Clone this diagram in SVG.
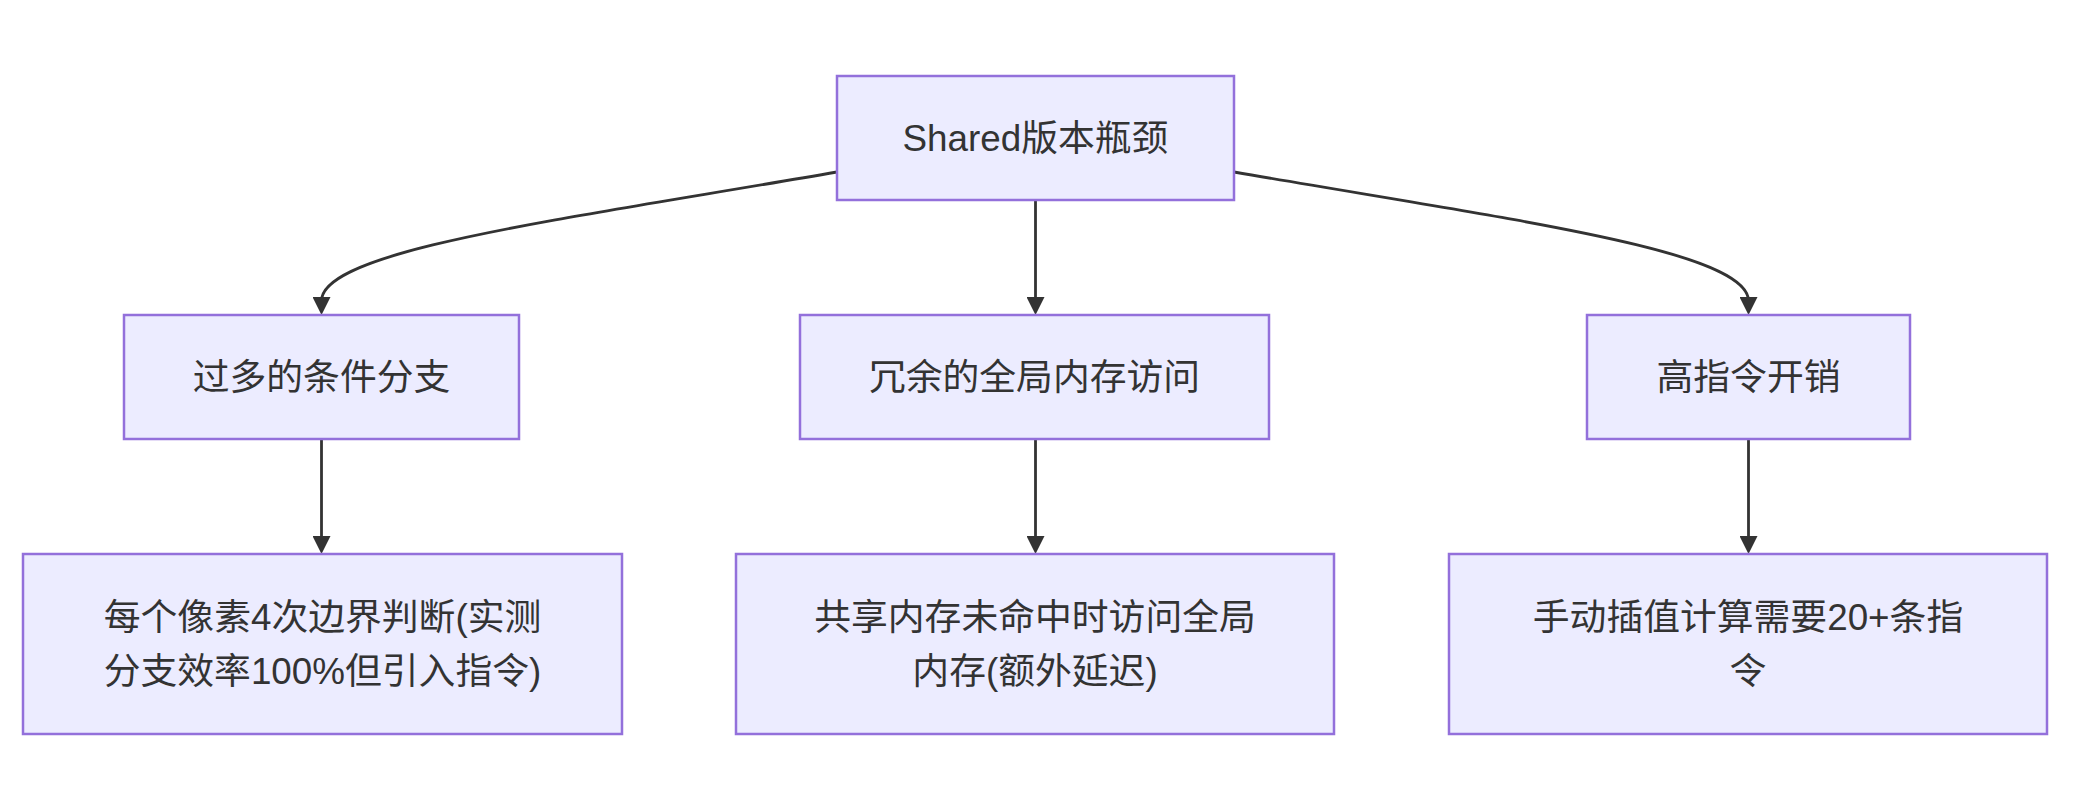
<svg xmlns="http://www.w3.org/2000/svg" width="2094" height="790" viewBox="0 0 2094 790">
<style>
.node rect{fill:#ECECFF;stroke:#9370DB;stroke-width:2.5;}
.node text{font-family:"Liberation Sans","Noto Sans CJK SC",sans-serif;font-size:36.8px;fill:#333333;text-anchor:middle;dominant-baseline:central;}
.edge{fill:none;stroke:#333333;stroke-width:2.8;}
</style>
<defs>
<marker id="arrow" viewBox="0 0 10 10" refX="2.2" refY="5" markerUnits="userSpaceOnUse" markerWidth="18" markerHeight="18" orient="auto">
<path d="M0,0 L10,5 L0,10 z" fill="#333333"/>
</marker>
</defs>
<rect width="2094" height="790" fill="#ffffff"/>
<g id="connectors">
<path class="edge" d="M837,172 C560,220 321.5,250 321.5,301" marker-end="url(#arrow)"/>
<path class="edge" d="M1035.5,200 L1035.5,301" marker-end="url(#arrow)"/>
<path class="edge" d="M1234,172 C1511,220 1748.5,250 1748.5,301" marker-end="url(#arrow)"/>
<path class="edge" d="M321.5,439 L321.5,540" marker-end="url(#arrow)"/>
<path class="edge" d="M1035.5,439 L1035.5,540" marker-end="url(#arrow)"/>
<path class="edge" d="M1748.5,439 L1748.5,540" marker-end="url(#arrow)"/>
</g>
<g id="top" class="node">
<rect x="837" y="76" width="397" height="124"/>
<text x="1035.5" y="138">Shared版本瓶颈</text>
</g>
<g id="branch" class="node">
<rect x="124" y="315" width="395" height="124"/>
<text x="321.5" y="377">过多的条件分支</text>
</g>
<g id="memory" class="node">
<rect x="800" y="315" width="469" height="124"/>
<text x="1034.5" y="377">冗余的全局内存访问</text>
</g>
<g id="instr" class="node">
<rect x="1587" y="315" width="323" height="124"/>
<text x="1748.5" y="377">高指令开销</text>
</g>
<g id="branchDetail" class="node">
<rect x="23" y="554" width="599" height="180"/>
<text x="322.5" y="617">每个像素4次边界判断(实测</text>
<text x="322.5" y="671">分支效率100%但引入指令)</text>
</g>
<g id="memoryDetail" class="node">
<rect x="736" y="554" width="598" height="180"/>
<text x="1035" y="617">共享内存未命中时访问全局</text>
<text x="1035" y="671">内存(额外延迟)</text>
</g>
<g id="instrDetail" class="node">
<rect x="1449" y="554" width="598" height="180"/>
<text x="1748" y="617">手动插值计算需要20+条指</text>
<text x="1748" y="671">令</text>
</g>
</svg>
